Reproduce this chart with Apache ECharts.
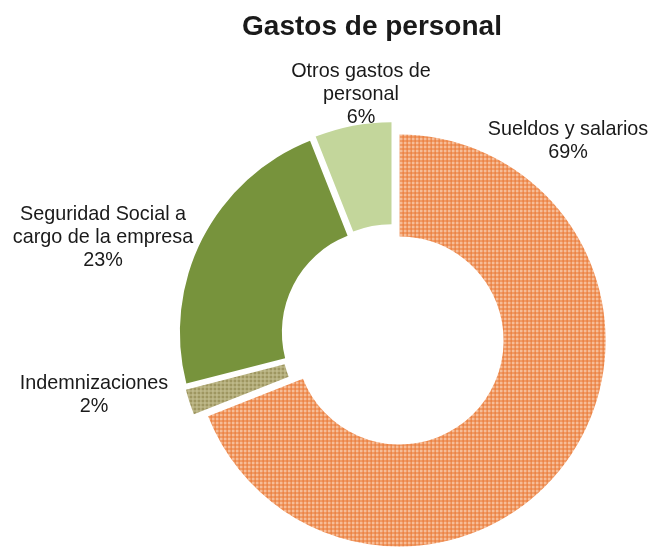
<!DOCTYPE html>
<html>
<head>
<meta charset="utf-8">
<script src="https://cdn.jsdelivr.net/npm/echarts@6/dist/echarts.min.js"></script>
<style>
html, body { margin: 0; padding: 0; background: #fff; }
#chart { width: 667px; height: 549px; }
</style>
</head>
<body>
<div id="chart"></div>
<script>
var titulo = 'Gastos de personal';
var categorias = ['Sueldos y salarios', 'Indemnizaciones', 'Seguridad Social a\ncargo de la empresa', 'Otros gastos de\npersonal'];
var porcentajes = [69, 2, 23, 6];

// trama de cuadricula (como el relleno de Excel)
function trama(fondo, linea, paso)
{
    var c = document.createElement('canvas');
    c.width = paso;
    c.height = paso;
    var ctx = c.getContext('2d');
    ctx.fillStyle = fondo;
    ctx.fillRect(0, 0, paso, paso);
    ctx.fillStyle = linea;
    ctx.fillRect(0, 0, paso, 1);
    ctx.fillRect(0, 0, 1, paso);
    return { image: c, repeat: 'repeat' };
}

var colores = [
    trama('#F6BD98', '#EA7733', 4),
    trama('#9E9660', '#C9C497', 4),
    '#77933C',
    '#C3D69B'
];

// centro de cada etiqueta
var posEtiquetas = [[568, 141], [94, 395], [103, 238], [361, 95]];
var altoLinea = 23;

var myChart = echarts.init(document.getElementById('chart'));

var datos = [];
for (var i = 0; i < categorias.length; i++) {
    datos.push({
        name: categorias[i],
        value: porcentajes[i],
        selected: true,
        itemStyle: { color: colores[i] }
    });
}

var fuente = 'Liberation Sans, Arial, sans-serif';
var titulos = [{
    text: titulo,
    left: 367,
    top: 8,
    textAlign: 'center',
    textStyle: { fontFamily: fuente, fontSize: 28, fontWeight: 'bold', color: '#1a1a1a' }
}];
var total = porcentajes.reduce(function (a, b) { return a + b; }, 0);
for (var j = 0; j < categorias.length; j++) {
    var texto = categorias[j] + '\n' + Math.round(porcentajes[j] / total * 100) + '%';
    var lineas = texto.split('\n').length;
    titulos.push({
        text: texto,
        left: posEtiquetas[j][0],
        top: posEtiquetas[j][1] - lineas * altoLinea / 2,
        padding: 0,
        textAlign: 'center',
        textStyle: {
            fontFamily: fuente,
            fontSize: 19.8,
            fontWeight: 'normal',
            lineHeight: altoLinea,
            color: '#1a1a1a',
            align: 'center'
        }
    });
}

option = {
    animation: false,
    title: titulos,
    series: [{
        type: 'pie',
        center: [393, 336],
        radius: [104, 206],
        startAngle: 90,
        clockwise: true,
        selectedMode: 'multiple',
        selectedOffset: 8,
        emphasis: { disabled: true },
        label: { show: false },
        labelLine: { show: false },
        data: datos
    }]
};

myChart.setOption(option);
</script>
</body>
</html>
